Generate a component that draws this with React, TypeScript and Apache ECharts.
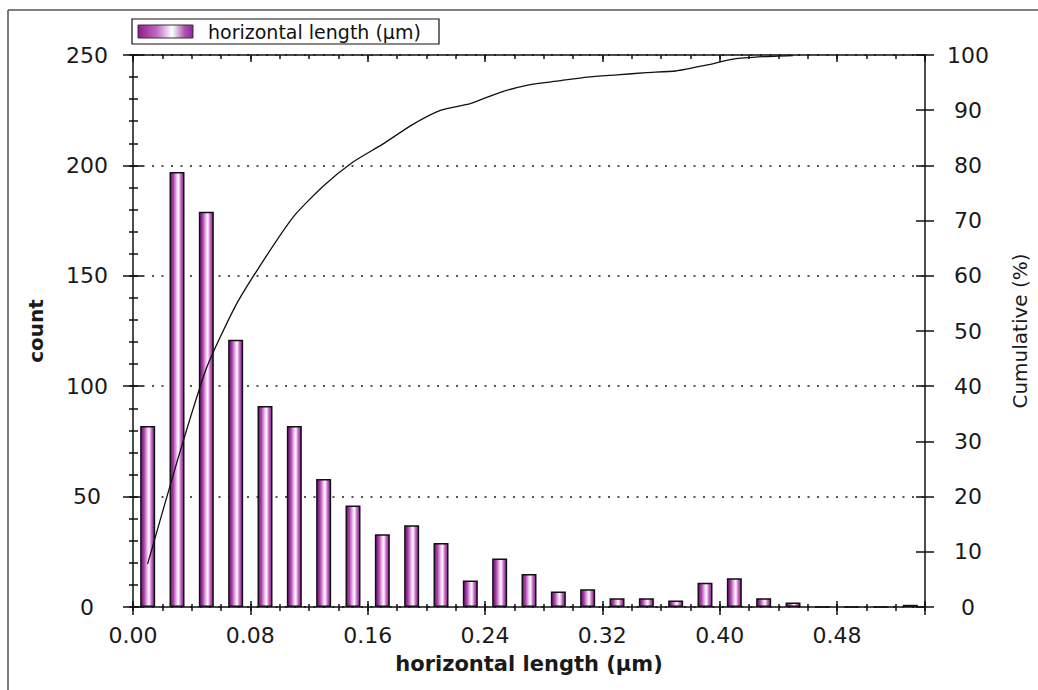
import React, { useEffect, useRef } from 'react';
import * as echarts from 'echarts';

// ---- data ----
const binCenters = [
  0.01, 0.03, 0.05, 0.07, 0.09, 0.11, 0.13, 0.15, 0.17, 0.19, 0.21, 0.23, 0.25, 0.27,
  0.29, 0.31, 0.33, 0.35, 0.37, 0.39, 0.41, 0.43, 0.45, 0.47, 0.49, 0.51, 0.53,
];
const counts = [
  82, 197, 179, 121, 91, 82, 58, 46, 33, 37, 29, 12, 22, 15,
  7, 8, 4, 4, 3, 11, 13, 4, 2, 0, 0, 0, 1,
];
// cumulative curve (%) read at the first 23 bin centres
const cumulativePct = [
  7.8, 26.3, 43.2, 54.6, 63.2, 70.9, 76.3, 80.6, 83.8, 87.3, 90.0, 91.2, 93.2,
  94.6, 95.3, 96.0, 96.4, 96.8, 97.1, 98.1, 99.3, 99.7, 99.9,
];
const xTickLabels = ['0.00', '0.08', '0.16', '0.24', '0.32', '0.40', '0.48'];
const countTicks = [0, 50, 100, 150, 200, 250];
const pctTicks = [0, 10, 20, 30, 40, 50, 60, 70, 80, 90, 100];

const seriesName = 'horizontal length (µm)';
const xName = 'horizontal length (µm)';
const yLeftName = 'count';
const yRightName = 'Cumulative (%)';

const FONT = 'DejaVu Sans';
const INK = '#111';

export default function App() {
  const ref = useRef<HTMLDivElement>(null);

  useEffect(() => {
    if (!ref.current) return;
    const chart = echarts.init(ref.current, undefined, { renderer: 'svg' });

    const barGradient = new echarts.graphic.LinearGradient(0, 0, 1, 0, [
      { offset: 0, color: '#6a1670' },
      { offset: 0.22, color: '#a83aa8' },
      { offset: 0.45, color: '#e8b4e8' },
      { offset: 0.6, color: '#ffffff' },
      { offset: 0.8, color: '#c462c4' },
      { offset: 1, color: '#7a2080' },
    ]);
    const legendGradient = new echarts.graphic.LinearGradient(0, 0, 1, 0, [
      { offset: 0, color: '#8a1c8a' },
      { offset: 0.35, color: '#c26cc2' },
      { offset: 0.62, color: '#ffffff' },
      { offset: 0.85, color: '#b04fb0' },
      { offset: 1, color: '#8e2a8e' },
    ]);

    const xMax = 0.54;
    const xMinor = 0.02;
    const xMajor = 0.08;
    const lineStyle = { color: INK, width: 1.5 };

    const isMajorX = (v: number) => Math.abs(v / xMajor - Math.round(v / xMajor)) < 1e-6;
    const xLabelFmt = (v: number) => {
      if (!isMajorX(v)) return '';
      const idx = Math.round(v / xMajor);
      return xTickLabels[idx] ?? '';
    };

    const baseX = (extra: any) => ({
      type: 'value',
      min: 0,
      max: xMax,
      axisLine: { show: false, onZero: false, lineStyle },
      axisLabel: { show: false },
      splitLine: { show: false },
      ...extra,
    });
    const baseYL = (extra: any) => ({
      type: 'value',
      position: 'left',
      min: countTicks[0],
      max: countTicks[countTicks.length - 1],
      axisLine: { show: false, onZero: false, lineStyle },
      axisLabel: { show: false },
      splitLine: { show: false },
      ...extra,
    });
    const baseYR = (extra: any) => ({
      type: 'value',
      position: 'right',
      min: pctTicks[0],
      max: pctTicks[pctTicks.length - 1],
      interval: 10,
      axisLine: { show: false, onZero: false, lineStyle },
      axisLabel: { show: false },
      splitLine: { show: false },
      ...extra,
    });

    const option: any = {
      animation: false,
      backgroundColor: '#ffffff',
      grid: { left: 133, right: 110, top: 55, bottom: 83, containLabel: false },
      xAxis: [
        baseX({
          position: 'bottom',
          interval: xMinor,
          axisLine: { show: true, onZero: false, lineStyle },
          axisTick: { show: true, inside: false, length: 4, lineStyle },
        }),
        baseX({
          position: 'bottom',
          interval: xMinor,
          axisTick: { show: true, inside: true, length: 3, lineStyle },
        }),
        baseX({
          position: 'bottom',
          interval: xMajor,
          axisTick: { show: true, inside: false, length: 8, lineStyle },
          axisLabel: {
            show: true,
            formatter: xLabelFmt,
            margin: 17,
            fontFamily: FONT,
            fontSize: 22,
            color: '#1a1a1a',
          },
          name: xName,
          nameLocation: 'middle',
          nameGap: 46,
          nameTextStyle: { fontFamily: FONT, fontSize: 21, fontWeight: 'bold', color: '#1a1a1a' },
        }),
        baseX({
          position: 'bottom',
          interval: xMajor,
          axisTick: { show: true, inside: true, length: 6, lineStyle },
        }),
        baseX({
          position: 'top',
          interval: xMinor,
          axisLine: { show: true, onZero: false, lineStyle },
          axisTick: { show: true, inside: true, length: 4, lineStyle },
        }),
        baseX({
          position: 'top',
          interval: xMajor,
          axisTick: { show: true, inside: true, length: 7, lineStyle },
        }),
      ],
      yAxis: [
        baseYL({
          interval: 50,
          axisLine: { show: true, onZero: false, lineStyle },
          axisTick: { show: true, inside: false, length: 10, lineStyle },
          axisLabel: {
            show: true,
            margin: 46,
            align: 'center',
            fontFamily: FONT,
            fontSize: 22,
            color: '#1a1a1a',
          },
          splitLine: {
            show: true,
            lineStyle: { color: '#555', width: 1.8, type: [2, 7.5] },
          },
          name: yLeftName,
          nameLocation: 'middle',
          nameGap: 87,
          nameTextStyle: { fontFamily: FONT, fontSize: 20, fontWeight: 'bold', color: '#1a1a1a' },
        }),
        baseYL({
          interval: 50,
          axisTick: { show: true, inside: true, length: 10, lineStyle },
        }),
        baseYL({
          interval: 10,
          axisTick: { show: true, inside: false, length: 4, lineStyle },
        }),
        baseYL({
          interval: 10,
          axisTick: { show: true, inside: true, length: 5, lineStyle },
        }),
        baseYR({
          axisLine: { show: true, onZero: false, lineStyle },
          axisTick: { show: true, inside: false, length: 9, lineStyle },
          axisLabel: {
            show: true,
            margin: 43,
            align: 'center',
            fontFamily: FONT,
            fontSize: 22,
            color: '#1a1a1a',
          },
          name: yRightName,
          nameLocation: 'middle',
          nameGap: 85,
          nameTextStyle: { fontFamily: FONT, fontSize: 20, color: '#1a1a1a' },
        }),
        baseYR({
          axisTick: { show: true, inside: true, length: 9, lineStyle },
        }),
      ],
      series: [
        {
          name: seriesName,
          type: 'bar',
          xAxisIndex: 0,
          yAxisIndex: 0,
          barWidth: 15,
          data: binCenters.map((x, i) => [x, counts[i]]),
          itemStyle: { color: barGradient, borderColor: INK, borderWidth: 1.5 },
          z: 2,
        },
        {
          name: 'cumulative',
          type: 'line',
          xAxisIndex: 0,
          yAxisIndex: 4,
          data: cumulativePct.map((v, i) => [binCenters[i], v]),
          showSymbol: false,
          symbol: 'none',
          smooth: 0.2,
          lineStyle: { color: INK, width: 1.3 },
          z: 3,
        },
      ],
      graphic: [
        {
          type: 'line',
          shape: { x1: 8, y1: 10, x2: 1038, y2: 10 },
          style: { stroke: '#555', lineWidth: 1.5 },
        },
        {
          type: 'line',
          shape: { x1: 8, y1: 10, x2: 8, y2: 690 },
          style: { stroke: '#555', lineWidth: 1.5 },
        },
        {
          type: 'rect',
          shape: { x: 132, y: 19, width: 307, height: 25 },
          style: { fill: '#ffffff', stroke: INK, lineWidth: 1.2 },
          z: 10,
        },
        {
          type: 'rect',
          shape: { x: 138, y: 25, width: 55, height: 13 },
          style: { fill: legendGradient, stroke: '#333', lineWidth: 1 },
          z: 11,
        },
        {
          type: 'text',
          x: 208,
          y: 31.5,
          style: {
            text: seriesName,
            fontFamily: FONT,
            fontSize: 19,
            fill: '#111',
            verticalAlign: 'middle',
            align: 'left',
          },
          z: 11,
        },
      ],
    };

    chart.setOption(option);
    return () => chart.dispose();
  }, []);

  return (
    <div
      ref={ref}
      style={{ position: 'fixed', left: 0, top: 0, width: 1038, height: 690, background: '#fff' }}
    />
  );
}
